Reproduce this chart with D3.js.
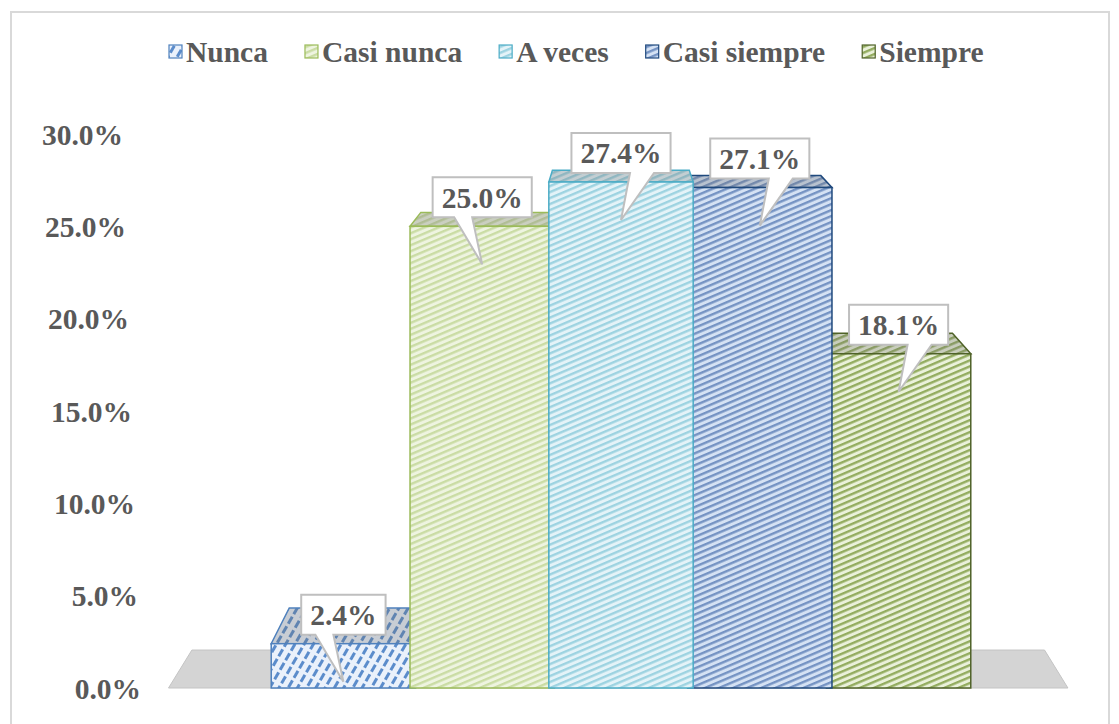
<!DOCTYPE html>
<html>
<head>
<meta charset="utf-8">
<script src="https://cdn.jsdelivr.net/npm/d3@7"></script>
<style>
  body { margin: 0; background: #ffffff; }
  text { font-family: "Liberation Serif", "Times New Roman", serif; font-weight: bold; fill: #595959; }
</style>
</head>
<body>
<div id="chart"></div>
<script>
// Respuestas (porcentaje)
const categories = ['Nunca', 'Casi nunca', 'A veces', 'Casi siempre', 'Siempre'];
const values = [2.4, 25.0, 27.4, 27.1, 18.1];
const yTicks = [0, 5, 10, 15, 20, 25, 30];

// pattern colours: background, stripe, border
const palette = [
    { bg: '#eaf1fb', stripe: '#5b8ccb', border: '#4f81bd', kind: 'dash' },
    { bg: '#eef4e0', stripe: '#cadca4', border: '#9bbb59', kind: 'line' },
    { bg: '#e4f3f8', stripe: '#9dd3e1', border: '#4bacc6', kind: 'line' },
    { bg: '#d5e2f4', stripe: '#7593c3', border: '#1f497d', kind: 'line' },
    { bg: '#eaf1da', stripe: '#93ac5f', border: '#4f6228', kind: 'line' }
];

const W = 1119, H = 724;
const FS = '29.5px';
const svg = d3.select('#chart').append('svg')
    .attr('width', W)
    .attr('height', H);

// chart frame
svg.append('rect')
    .attr('x', 11).attr('y', 12)
    .attr('width', 1098).attr('height', 730)
    .attr('fill', '#fff')
    .attr('stroke', '#d9d9d9')
    .attr('stroke-width', 2);

const defs = svg.append('defs');
palette.forEach((p, i) => {
    const pat = defs.append('pattern')
        .attr('id', 'pat' + i)
        .attr('patternUnits', 'userSpaceOnUse');
    if (p.kind === 'dash') {
        pat.attr('width', 11).attr('height', 8).attr('patternTransform', 'rotate(-60)');
        pat.append('rect').attr('width', 11).attr('height', 8).attr('fill', p.bg);
        pat.append('rect').attr('x', 0).attr('y', 0).attr('width', 8).attr('height', 3).attr('fill', p.stripe);
    } else {
        pat.attr('width', 6).attr('height', 5.5).attr('patternTransform', 'rotate(-23)');
        pat.append('rect').attr('width', 6).attr('height', 5.5).attr('fill', p.bg);
        pat.append('rect').attr('width', 6).attr('height', 2.4).attr('fill', p.stripe);
    }
});

// scales
const x = d3.scaleBand()
    .domain(categories)
    .range([274, 968])
    .padding(0);

const y = d3.scaleLinear()
    .domain([0, 30])
    .range([688, 134]);

// simple perspective: back plane is the front plane shrunk toward a vanishing point
const vp = { x: 618, y: -42 };
const k = 0.948;
const back = (px, py) => [vp.x + (px - vp.x) * k, vp.y + (py - vp.y) * k];
const poly = pts => pts.map(p => p.join(',')).join(' ');

// floor
const floorL = x.range()[0] - x.step() * 0.76;
const floorR = x.range()[1] + x.step() * 0.72;
svg.append('polygon')
    .attr('points', poly([[floorL, y(0)], [floorR, y(0)], back(floorR, y(0)), back(floorL, y(0))]))
    .attr('fill', '#d4d4d4')
    .attr('stroke', '#c4c4c4')
    .attr('stroke-width', 1);

// y axis labels (pushed along the slanted left wall)
const yAxis = svg.append('g')
    .attr('class', 'y-axis')
    .call(d3.axisLeft(y).tickValues(yTicks).tickSize(0).tickFormat(d => d.toFixed(1) + '%'));
yAxis.select('.domain').remove();
yAxis.selectAll('text')
    .attr('x', d => 123 + (y(d) - y(30)) / (y(0) - y(30)) * 18)
    .attr('dy', '0.35em')
    .attr('text-anchor', 'end')
    .style('font-size', FS)
    .style('font-family', '"Liberation Serif", serif')
    .style('font-weight', 'bold')
    .attr('fill', '#595959');

// bars, drawn from the outside in so the middle ones sit on top
const mid = i => x(categories[i]) + x.bandwidth() / 2;
const order = d3.range(categories.length)
    .sort((a, b) => Math.abs(mid(b) - vp.x) - Math.abs(mid(a) - vp.x));

const barsG = svg.append('g').attr('class', 'bars');
order.forEach(i => {
    const p = palette[i];
    const w = x.bandwidth() * 1.04;
    const x0 = mid(i) - w / 2;
    const x1 = x0 + w;
    const yt = y(values[i]);
    const yb = y(0);
    const g = barsG.append('g');

    // side face toward the vanishing point
    [[x1, x1 < vp.x], [x0, x0 > vp.x]].forEach(([sx, show]) => {
        if (!show) return;
        const side = [[sx, yt], [sx, yb], back(sx, yb), back(sx, yt)];
        g.append('polygon').attr('points', poly(side)).attr('fill', 'url(#pat' + i + ')').attr('stroke', p.border);
        g.append('polygon').attr('points', poly(side)).attr('fill', '#000').attr('opacity', 0.15);
    });
    // top face
    const top = [[x0, yt], [x1, yt], back(x1, yt), back(x0, yt)];
    g.append('polygon').attr('points', poly(top)).attr('fill', 'url(#pat' + i + ')');
    g.append('polygon').attr('points', poly(top))
        .attr('fill', '#707070').attr('opacity', 0.28);
    g.append('polygon').attr('points', poly(top))
        .attr('fill', 'none')
        .attr('stroke', p.border).attr('stroke-width', 1.5);
    // front face
    g.append('rect')
        .attr('x', x0).attr('y', yt)
        .attr('width', w).attr('height', yb - yt)
        .attr('fill', 'url(#pat' + i + ')')
        .attr('stroke', p.border)
        .attr('stroke-width', 1.5);
});

// data callouts
const fmt = v => v.toFixed(1) + '%';
const labelsG = svg.append('g').attr('class', 'callouts');
values.forEach((v, i) => {
    const cx = mid(i);
    const t = labelsG.append('text')
        .attr('x', cx)
        .attr('text-anchor', 'middle')
        .style('font-size', FS)
        .text(fmt(v));
    const tw = t.node().getComputedTextLength();
    const bw = tw + 18, bh = 40;
    const bottom = y(v) - 9, topY = bottom - bh;
    const left = cx - bw / 2, right = cx + bw / 2;
    const base = i < 2 ? [cx - 28, cx - 10] : [cx + 9, cx + 33];
    const tip = [cx, y(v) + 38];
    labelsG.insert('path', 'text')
        .attr('d', `M${left},${topY}H${right}V${bottom}H${base[1]}L${tip[0]},${tip[1]}L${base[0]},${bottom}H${left}Z`)
        .attr('fill', '#ffffff')
        .attr('stroke', '#bfbfbf')
        .attr('stroke-width', 2);
    t.attr('y', topY + bh / 2).attr('dy', '0.35em');
});

// legend
const legend = svg.append('g').attr('class', 'legend').attr('transform', 'translate(169, 52)');
let lx = 0;
categories.forEach((c, i) => {
    const item = legend.append('g').attr('transform', `translate(${lx},0)`);
    item.append('rect')
        .attr('x', 0).attr('y', -7)
        .attr('width', 13).attr('height', 13)
        .attr('fill', 'url(#pat' + i + ')')
        .attr('stroke', palette[i].border)
        .attr('stroke-width', 1.2);
    const t = item.append('text')
        .attr('x', 17)
        .attr('dy', '0.35em')
        .style('font-size', FS)
        .text(c);
    lx += 17 + t.node().getComputedTextLength() + 37;
});
</script>
</body>
</html>
